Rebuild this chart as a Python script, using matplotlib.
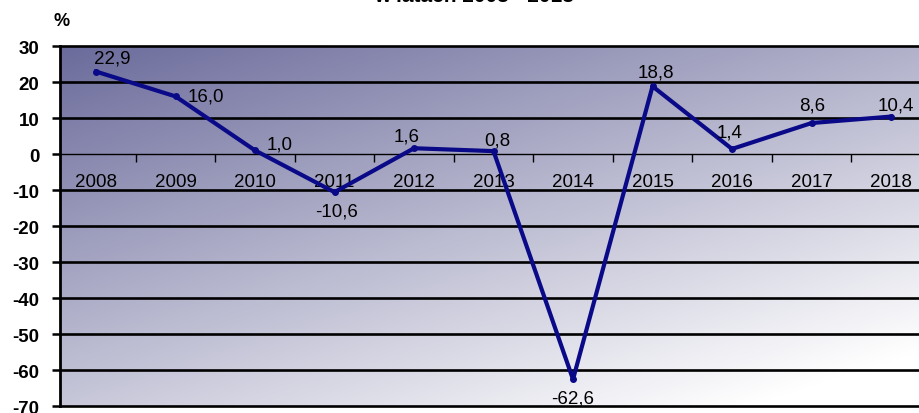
import numpy as np
import matplotlib
matplotlib.use("Agg")
import matplotlib.pyplot as plt
from matplotlib.ticker import FixedLocator

plt.rcParams['font.family'] = ['Liberation Sans', 'DejaVu Sans']

years = ['2008', '2009', '2010', '2011', '2012', '2013', '2014', '2015', '2016', '2017', '2018']
values = [22.9, 16.0, 1.0, -10.6, 1.6, 0.8, -62.6, 18.8, 1.4, 8.6, 10.4]
value_labels = ['22,9', '16,0', '1,0', '-10,6', '1,6', '0,8', '-62,6', '18,8', '1,4', '8,6', '10,4']
y_ticks = [30, 20, 10, 0, -10, -20, -30, -40, -50, -60, -70]
title_text = 'w latach 2008 - 2018'
unit_text = '%'

# label offsets in pixels (dx, dy downward positive)
label_offsets_px = [(16, -14), (30, 0), (25, -6), (2, 19), (-7, -12), (4, -11),
                    (0, 19), (3, -14), (-2, -17), (1, -18), (5, -12)]

W, H = 920, 414
fig = plt.figure(figsize=(W / 100, H / 100), dpi=100)
fig.patch.set_facecolor('white')

left_px, top_px, bottom_px = 60, 47, 407
spacing = 79.5
x0 = -0.453
x1 = 10.5
width_px = (x1 - x0) * spacing
ax = fig.add_axes([left_px / W, (H - bottom_px) / H, width_px / W, (bottom_px - top_px) / H])

# gradient background
nu, nv = 400, 200
u = np.linspace(0, 1, nu)[None, :]
v = np.linspace(0, 1, nv)[:, None]
t = np.clip(0.48 * u + 0.62 * v, 0, 1)
c0 = np.array([0.42, 0.42, 0.61])
c1 = np.array([1.0, 1.0, 1.0])
img = c0[None, None, :] + (c1 - c0)[None, None, :] * t[:, :, None]
ax.imshow(img, extent=[0, 1, 0, 1], transform=ax.transAxes, aspect='auto',
          zorder=0, interpolation='bilinear')

x = np.arange(len(years))

for yv in y_ticks:
    if yv == 0:
        ax.axhline(yv, color='black', lw=1.0, zorder=1)
    else:
        ax.axhline(yv, color='black', lw=1.9, zorder=1, clip_on=False)

ax.plot(x, values, color='#0a0a88', lw=3.0, marker='o', markersize=4,
        solid_joinstyle='round', zorder=3, clip_on=False)

for xi, yi, lab, (dx, dy) in zip(x, values, value_labels, label_offsets_px):
    ax.annotate(lab, (xi, yi), xytext=(dx * 0.72, -dy * 0.72), textcoords='offset points',
                ha='center', va='center', fontsize=13.5, color='black', zorder=4)

ax.set_xlim(x0, x1)
ax.set_ylim(-70, 30)

for s in ['top', 'right']:
    ax.spines[s].set_visible(False)
ax.spines['left'].set_linewidth(2.0)
ax.spines['left'].set_zorder(5)
ax.spines['bottom'].set_position(('data', 0))
ax.spines['bottom'].set_visible(False)

ax.set_yticks(y_ticks)
ax.set_yticklabels([str(v) for v in y_ticks], fontsize=13.5, fontweight='bold')
ax.tick_params(axis='y', direction='out', length=5.8, width=1.8, pad=9)

ax.set_xticks(x)
ax.set_xticklabels(years, fontsize=13.5)
ax.xaxis.set_minor_locator(FixedLocator(np.arange(0.5, len(years) - 0.5, 1.0)))
ax.tick_params(axis='x', which='major', length=0, pad=14)
ax.tick_params(axis='x', which='minor', direction='out', length=5.8, width=1.0)

fig.text(62 / W, 1 - 22 / H, unit_text, ha='center', va='center', fontsize=13, fontweight='bold')
fig.text(474.5 / W, 1 - 2.5 / H, title_text, ha='center', va='baseline', fontsize=15, fontweight='bold')

fig.savefig('out.png', dpi=100, facecolor='white')
